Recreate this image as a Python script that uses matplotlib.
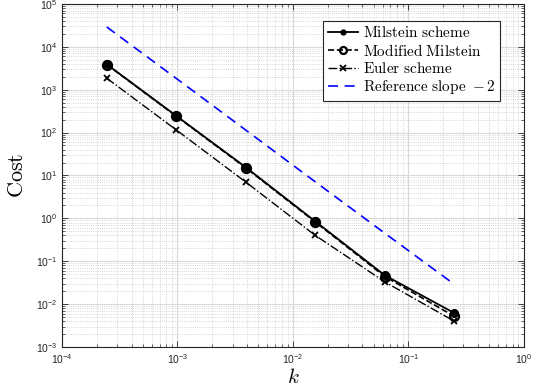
import math
import matplotlib
matplotlib.use('Agg')
import matplotlib.pyplot as plt
from matplotlib.ticker import LogLocator, FuncFormatter, NullFormatter

plt.rcParams['mathtext.fontset'] = 'custom'
plt.rcParams['mathtext.rm'] = 'cmr10'
plt.rcParams['mathtext.it'] = 'cmmi10'
plt.rcParams['mathtext.sf'] = 'Liberation Sans'
plt.rcParams['mathtext.fallback'] = 'cm'

# step sizes k = 4^-6 ... 4^-1
k = [2.44e-4, 9.77e-4, 3.91e-3, 1.5625e-2, 6.25e-2, 2.5e-1]
cost_milstein = [3900, 245, 15.5, 0.85, 0.047, 0.0062]
cost_modified = [3850, 240, 15.0, 0.82, 0.044, 0.0052]
cost_euler = [1850, 115, 7.0, 0.40, 0.033, 0.0040]
cost_ref = [29000, 1830, 114, 7.1, 0.45, 0.029]

fig = plt.figure(figsize=(5.35, 3.91), dpi=100)
ax = fig.add_axes([0.116, 0.1125, 0.863, 0.8775])

ax.loglog(k, cost_milstein, '-', color='k', lw=1.3, marker='o', ms=5.5,
          mfc='k', mec='k', label=r'$\mathrm{Milstein\ scheme}$')
ax.loglog(k, cost_modified, '--', color='k', lw=1.2, marker='o', ms=6.5,
          mfc='none', mec='k', mew=1.6, label=r'$\mathrm{Modified\ Milstein}$')
ax.loglog(k, cost_euler, '-.', color='k', lw=1.0, marker='x', ms=4,
          mew=1.3, label=r'$\mathrm{Euler\ scheme}$')
ax.loglog(k, cost_ref, '--', color='#0000ff', lw=1.2, dashes=(6, 4),
          label=r'$\mathrm{Reference\ slope\ }-2$')

ax.set_xlim(1e-4, 1e0)
ax.set_ylim(1e-3, 1e5)

ax.xaxis.set_major_locator(LogLocator(base=10, numticks=10))
ax.yaxis.set_major_locator(LogLocator(base=10, numticks=20))
ax.xaxis.set_minor_locator(LogLocator(base=10, subs=range(2, 10), numticks=20))
ax.yaxis.set_minor_locator(LogLocator(base=10, subs=range(2, 10), numticks=20))
fmt = FuncFormatter(lambda v, p: r'$\mathsf{10^{%d}}$' % round(math.log10(v)))
ax.xaxis.set_major_formatter(fmt)
ax.yaxis.set_major_formatter(fmt)
ax.xaxis.set_minor_formatter(NullFormatter())
ax.yaxis.set_minor_formatter(NullFormatter())

ax.grid(True, which='major', color='#d9d9d9', lw=0.8, ls='-')
ax.grid(True, which='minor', color='#c8c8c8', lw=0.6, ls=':')
ax.set_axisbelow(True)

ax.tick_params(which='both', direction='in', top=True, right=True,
               colors='#262626', labelsize=7.5)
ax.tick_params(which='major', length=4, width=0.6)
ax.tick_params(which='minor', length=2, width=0.5)
for s in ax.spines.values():
    s.set_color('#262626')
    s.set_linewidth(0.8)

ax.set_xlabel(r'$k$', fontsize=15, labelpad=1)
ax.set_ylabel(r'$\mathrm{Cost}$', fontsize=16, labelpad=6)

leg = ax.legend(loc='upper right', bbox_to_anchor=(0.955, 0.96), fontsize=11,
                fancybox=False, framealpha=1, edgecolor='#262626',
                handlelength=2.0, borderpad=0.3, labelspacing=0.15,
                handletextpad=0.3, borderaxespad=0.2)
leg.get_frame().set_linewidth(0.8)
# smaller markers in the legend keys
leg.legend_handles[0].set_markersize(3.5)
leg.legend_handles[1].set_markersize(5)

fig.savefig('out.png', dpi=100)
